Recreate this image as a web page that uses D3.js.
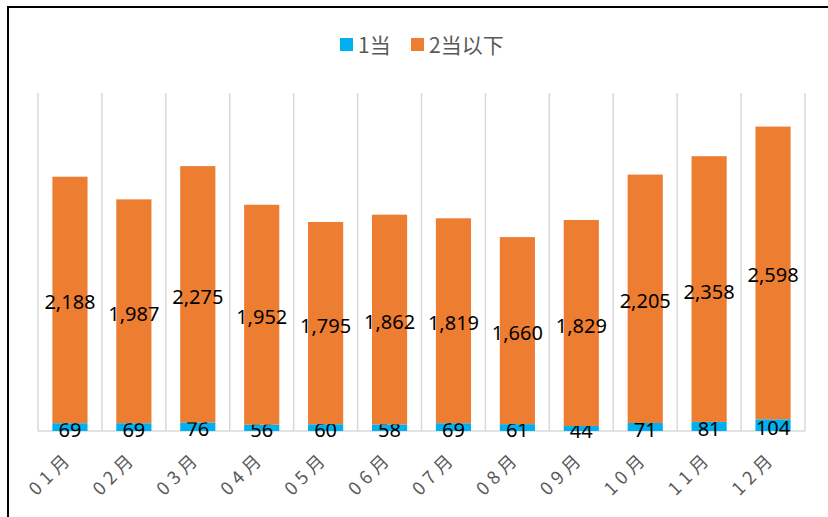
<!DOCTYPE html>
<html>
<head>
<meta charset="utf-8">
<script src="https://cdn.jsdelivr.net/npm/d3@7"></script>
<style>
  body { margin: 0; background: #fff; }
</style>
</head>
<body>
<svg id="chart" width="828" height="517"></svg>
<script>
// data
const months = ["01月","02月","03月","04月","05月","06月","07月","08月","09月","10月","11月","12月"];
const first = [69, 69, 76, 56, 60, 58, 69, 61, 44, 71, 81, 104];
const rest = [2188, 1987, 2275, 1952, 1795, 1862, 1819, 1660, 1829, 2205, 2358, 2598];
const seriesNames = ["1当", "2当以下"];
const colors = ["#00B0F0", "#ED7D31"];

const svg = d3.select("#chart");

// outer frame (only top/left edges visible)
svg.append("rect")
  .attr("x", 8).attr("y", 7)
  .attr("width", 900).attr("height", 600)
  .attr("fill", "none")
  .attr("stroke", "#000")
  .attr("stroke-width", 2);

const x = d3.scaleBand()
  .domain(months)
  .range([38, 805])
  .paddingInner(0)
  .paddingOuter(0);

const y = d3.scaleLinear()
  .domain([0, 3000])
  .range([431, 93]);

// vertical gridlines at category boundaries
const bounds = months.map(m => x(m)).concat([x.range()[1]]);
svg.append("g")
  .selectAll("line")
  .data(bounds)
  .enter()
  .append("line")
    .attr("x1", d => d).attr("x2", d => d)
    .attr("y1", y(3000)).attr("y2", y(0))
    .attr("stroke", "#d9d9d9")
    .attr("stroke-width", 1.5);

// baseline
svg.append("line")
  .attr("x1", x.range()[0]).attr("x2", x.range()[1])
  .attr("y1", y(0)).attr("y2", y(0))
  .attr("stroke", "#d9d9d9")
  .attr("stroke-width", 1.5);

const rows = months.map((m, i) => ({ month: m, a: first[i], b: rest[i] }));
const stack = d3.stack().keys(["a", "b"])(rows);

const barW = x.bandwidth() * 0.55;

const layers = svg.append("g")
  .selectAll("g")
  .data(stack)
  .enter()
  .append("g")
    .attr("fill", (d, i) => colors[i]);

layers.selectAll("rect")
  .data(d => d)
  .enter()
  .append("rect")
    .attr("x", d => x(d.data.month) + (x.bandwidth() - barW) / 2)
    .attr("y", d => y(d[1]))
    .attr("width", barW)
    .attr("height", d => y(d[0]) - y(d[1]));

// labels
const fmt = d3.format(",");
layers.selectAll("text")
  .data(d => d)
  .enter()
  .append("text")
    .attr("x", d => x(d.data.month) + x.bandwidth() / 2)
    .attr("y", d => (y(d[0]) + y(d[1])) / 2 + 2)
    .attr("text-anchor", "middle")
    .attr("dominant-baseline", "central")
    .attr("fill", "#000")
    .style("font-family", "'Noto Sans', sans-serif")
    .style("font-size", "20px")
    .text(d => fmt(d[1] - d[0]));

// x labels, rotated
svg.append("g")
  .selectAll("text")
  .data(months)
  .enter()
  .append("text")
    .attr("transform", d => `translate(${x(d) + x.bandwidth() / 2 + 4},${459}) rotate(-45)`)
    .attr("text-anchor", "end")
    .attr("fill", "#595959")
    .style("font-family", "'Noto Sans CJK SC', sans-serif")
    .style("font-size", "18px")
    .style("letter-spacing", "5px")
    .text(d => d);

// legend
const legend = svg.append("g")
  .style("font-family", "'Noto Sans CJK SC', sans-serif")
  .style("font-size", "21px")
  .attr("fill", "#595959");
const legendX = [340, 411];
seriesNames.forEach((name, i) => {
  legend.append("rect")
    .attr("x", legendX[i]).attr("y", 38)
    .attr("width", 13).attr("height", 13)
    .attr("fill", colors[i]);
  legend.append("text")
    .attr("x", legendX[i] + 18).attr("y", 44)
    .attr("dominant-baseline", "central")
    .text(name);
});
</script>
</body>
</html>
